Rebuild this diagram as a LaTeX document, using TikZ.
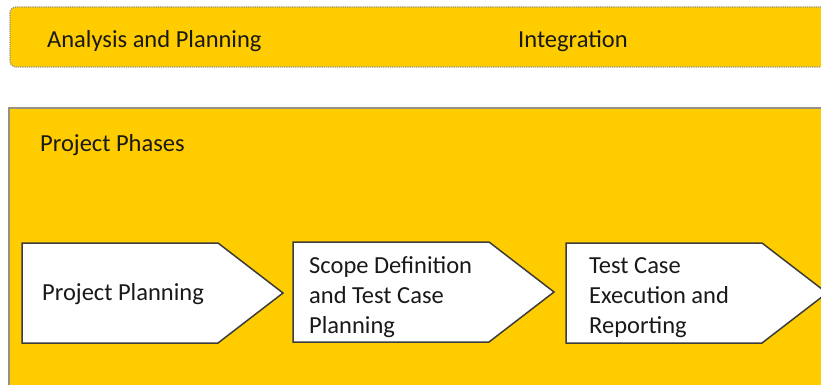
\documentclass[tikz,border=0pt]{standalone}
\usepackage{fontspec}
\setmainfont{Carlito}
\usepackage{tikz}
\usetikzlibrary{calc}
\definecolor{phaseyellow}{RGB}{255,204,0}
\definecolor{framegray}{RGB}{150,145,130}
\definecolor{edgegray}{RGB}{60,60,60}
\def\phasebox[#1](#2:#3){\draw[#1] (#2, #3) -- ($(#2, #3)+(196, 0)$) -- ($(#2, #3)+(261, 50)$) -- ($(#2, #3)+(196, 100)$) -- ($(#2, #3)+(0, 100)$) -- cycle;}
\tikzset{
	label text/.style={anchor=west, inner sep=0pt, align=left, font=\fontsize{24.5}{30}\selectfont, text=black!90},
}

\begin{document}
\begin{tikzpicture}[x=1pt, y=-1pt]
			%%%%% START %%%%%
			
			\clip (0, 0) rectangle (821, 385);
			\fill[white] (0, 0) rectangle (821, 385);
			
			% top band
			\draw[fill=phaseyellow, draw=framegray, line width=1.2pt, densely dotted, rounded corners=6pt] (10, 7) rectangle (840, 67);
			\node[label text] (analysis) at (47, 41) {Analysis and Planning};
			\node[label text] (integration) at (518, 41) {Integration};
			
			% phases frame
			\draw[fill=phaseyellow, draw=framegray, line width=1.5pt] (9, 108) rectangle (840, 400);
			\node[label text] (phases) at (40, 145) {Project Phases};
			
			\phasebox[fill=white, draw=edgegray, line width=1.5pt](22:243)
			\phasebox[fill=white, draw=edgegray, line width=1.5pt](293:242)
			\phasebox[fill=white, draw=edgegray, line width=1.5pt](566:243)
			
			\node[label text] (planning) at (42, 294) {Project Planning};
			\node[label text] (scope) at (309, 297) {Scope Definition\\and Test Case\\Planning};
			\node[label text] (execution) at (589, 298) {Test Case\\Execution and\\Reporting};
			
			%%%%% END %%%%%
		\end{tikzpicture}
\end{document}
